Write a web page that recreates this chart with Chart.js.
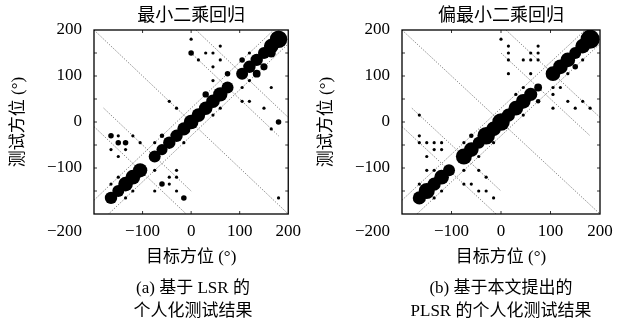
<!DOCTYPE html>
<html>
<head>
<meta charset="utf-8">
<script src="https://cdn.jsdelivr.net/npm/chart.js@4"></script>
<style>
  body { margin: 0; width: 632px; height: 327px; background: #fff; position: relative; overflow: hidden; }
  canvas { position: absolute; top: 0; display: block; }
  .cap { position: absolute; top: 276px; text-align: center; color: #000;
         font-family: "Liberation Serif", "Noto Sans CJK SC"; font-size: 17px; line-height: 23px; }
</style>
</head>
<body>
<canvas id="lsr" width="308" height="327" style="left:0"></canvas>
<canvas id="plsr" width="324" height="327" style="left:308px"></canvas>
<div class="cap" style="left:93px;width:200px">(a) 基于 LSR 的<br>个人化测试结果</div>
<div class="cap" style="left:391px;width:220px">(b) 基于本文提出的<br>PLSR 的个人化测试结果</div>
<script>
// [target, response, count]
const lsrPoints = [
  [-165,-165,15],[-150,-150,14],[-135,-135,21],[-120,-120,21],[-105,-105,20],
  [-75,-75,14],[-60,-60,12],[-45,-45,15],[-30,-30,15],[-15,-15,17],[0,0,21],
  [15,15,18],[30,30,18],[45,45,18],[60,60,20],[75,75,14],
  [105,105,14],[120,120,15],[135,135,15],[150,150,14],[165,165,21],[180,180,30],
  [165,150,8],[135,105,6],[150,120,5],[105,135,3],[75,105,3],[30,60,4],
  [-75,-105,1],[-75,-45,1],[-15,-45,1],[45,90,1],[45,15,1],[60,30,1],
  [-135,-165,1],[-165,-135,1],[-150,-120,1],[-120,-150,1],
  [-165,-30,3],[-150,-45,3],[-135,-45,3],[-150,-30,1],[-120,-30,1],[-165,-60,1],
  [-135,-60,1],[-105,-45,1],[-150,-75,1],[-60,-30,2],[-45,45,1],[-30,30,1],
  [-60,-135,3],[-45,-120,1],[-45,-135,1],[-30,-105,1],[-30,-120,1],[-30,-150,1],
  [-75,-150,1],[-15,-165,3],
  [0,180,1],[0,150,3],[30,150,1],[45,150,1],[15,135,1],[60,165,1],[60,135,1],
  [45,120,1],[120,150,1],[120,90,1],[105,75,1],[165,75,1],[120,45,1],[105,45,1],
  [150,30,1],[180,0,3],[165,-15,1],[180,-165,1]
];
const plsrPoints = [
  [-165,-165,17],[-150,-150,25],[-135,-135,17],[-120,-120,21],[-105,-105,14],
  [-75,-75,25],[-60,-60,21],[-45,-45,14],[-30,-30,30],[-15,-15,21],[0,0,30],
  [15,15,17],[30,30,21],[45,45,21],[60,60,17],[75,75,6],
  [105,105,21],[120,120,21],[135,135,21],[150,150,14],[165,165,21],[180,180,36],
  [-60,-30,2],[-45,-75,1],[-15,-45,1],[-75,-45,1],[30,60,1],[45,75,1],[45,15,1],
  [75,45,2],[135,105,1],[150,120,3],[165,135,1],
  [-165,-30,1],[-165,-45,1],[-150,-45,1],[-135,-45,1],[-120,-45,1],[-135,-60,1],
  [-120,-60,1],[-150,-75,1],[-165,15,1],[-150,-105,1],[-135,-105,1],
  [-165,-135,1],[-120,-150,1],[-135,-165,1],
  [-75,-105,1],[-75,-135,1],[-60,-135,1],[-45,-105,1],[-30,-120,1],[-45,-150,1],
  [-30,-150,1],[-15,-165,1],
  [0,180,1],[15,165,1],[15,150,1],[15,135,1],[15,105,1],[45,135,1],[60,150,1],
  [75,165,1],[75,150,1],[75,135,1],[60,135,1],[60,105,1],
  [105,75,1],[105,60,1],[120,75,1],[135,45,1],[150,30,1],[105,30,1],[165,45,1],[180,30,1]
];
// dotted guide lines, endpoints in degrees
const guideLines = [
  [[-170,-200],[200,170]],
  [[-200,-170],[170,200]],
  [[-200,200],[200,-200]],
  [[10,200],[200,10]],
  [[0,150],[180,-30]],
  [[-180,30],[0,-150]],
  [[-200,-10],[-10,-200]]
];
const xTickMarks = [-100, 0, 100];
const yTickMarks = [-150, -100, -50, 0, 50, 100, 150];

const tickFont = { family: '"Liberation Serif", serif', size: 17 };
const textFont = { family: '"Liberation Serif", "Noto Sans CJK SC"', size: 17 };
const minus = v => (v < 0 ? '\u2212' + Math.abs(v) : String(v));

const frame = {
  id: 'frame',
  afterDraw(chart) {
    const { ctx, chartArea: a, scales: { x, y } } = chart;
    ctx.save();
    ctx.strokeStyle = '#000';
    ctx.lineWidth = 0.8;
    ctx.beginPath();
    xTickMarks.forEach(v => {
      const p = x.getPixelForValue(v);
      ctx.moveTo(p, a.bottom); ctx.lineTo(p, a.bottom - 3);
      ctx.moveTo(p, a.top); ctx.lineTo(p, a.top + 3);
    });
    yTickMarks.forEach(v => {
      const p = y.getPixelForValue(v);
      ctx.moveTo(a.left, p); ctx.lineTo(a.left + 3, p);
      ctx.moveTo(a.right, p); ctx.lineTo(a.right - 3, p);
    });
    ctx.stroke();
    ctx.lineWidth = 1.3;
    ctx.strokeRect(a.left, a.top, a.right - a.left, a.bottom - a.top);
    // the -200 of the y axis sits down on the x label row, as in the figure
    ctx.fillStyle = '#000';
    ctx.font = '17px "Liberation Serif", serif';
    ctx.textAlign = 'right';
    ctx.textBaseline = 'middle';
    ctx.fillText(minus(-200), a.left - 12, y.getPixelForValue(-200) + 18);
    ctx.restore();
  }
};

function makeChart(id, title, points, padRight) {
  const datasets = [{
    type: 'bubble',
    data: points.map(([x, y, c]) => ({ x, y, r: 1.6 * Math.sqrt(c) })),
    backgroundColor: '#000',
    borderWidth: 0,
    hoverRadius: 0,
    order: 1
  }];
  guideLines.forEach(seg => datasets.push({
    type: 'line',
    data: seg.map(([x, y]) => ({ x, y })),
    borderColor: '#444',
    borderWidth: 0.8,
    borderDash: [1, 1.6],
    pointRadius: 0,
    order: 2
  }));

  return new Chart(document.getElementById(id), {
    type: 'bubble',
    data: { datasets },
    plugins: [frame],
    options: {
      responsive: false,
      animation: false,
      events: [],
      layout: { padding: { left: 0, right: padRight, top: 0, bottom: 59 } },
      plugins: {
        legend: { display: false },
        tooltip: { enabled: false },
        title: {
          display: true, text: title, color: '#000', fullSize: false,
          font: { family: '"Noto Sans CJK SC"', size: 18, weight: 'normal' },
          padding: { top: 3, bottom: 5.4 }
        }
      },
      scales: {
        x: {
          type: 'linear', min: -200, max: 200,
          afterFit: s => { s.height = 54; },
          grid: { display: false, drawTicks: false },
          border: { display: false },
          ticks: { stepSize: 100, padding: 7, color: '#000', font: tickFont, maxRotation: 0,
                   callback: v => (v === -200 ? '' : minus(v)) },
          title: { display: true, text: '目标方位 (°)', color: '#000', font: textFont,
                   padding: { top: 0, bottom: 0 } }
        },
        y: {
          type: 'linear', min: -200, max: 200,
          afterFit: s => { s.width = 94; },
          grid: { display: false, drawTicks: false },
          border: { display: false },
          ticks: { stepSize: 100, padding: 12, color: '#000', font: tickFont,
                   callback: v => (v === -200 ? '' : minus(v)) },
          title: { display: true, text: '测试方位 (°)', color: '#000', font: textFont,
                   padding: { top: 8, bottom: 0 } }
        }
      }
    }
  });
}

makeChart('lsr', '最小二乘回归', lsrPoints, 16);
makeChart('plsr', '偏最小二乘回归', plsrPoints, 32);
</script>
</body>
</html>
